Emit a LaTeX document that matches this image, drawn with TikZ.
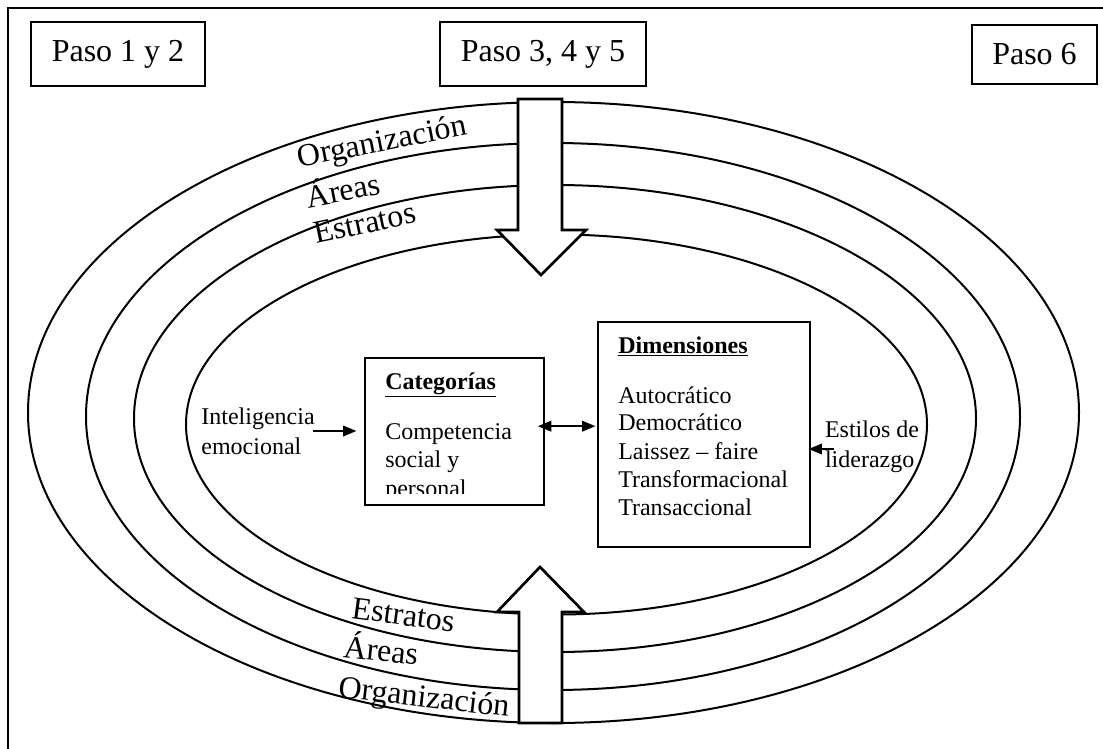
\documentclass[tikz,border=0pt]{standalone}
\usepackage{fontspec}
\setmainfont{Liberation Serif}
\usetikzlibrary{arrows.meta}

\tikzset{
  ring/.style={line width=1.5pt},
  bigarrow/.style={line width=2pt, fill=white, line join=miter},
  pasobox/.style={draw, line width=0.9pt, font=\fontsize{24}{28}\selectfont, minimum height=48pt, inner sep=0pt},
  txtbox/.style={draw, line width=0.9pt, inner sep=0pt},
  ringlabel/.style={font=\fontsize{24}{28}\selectfont, anchor=base, inner sep=0pt},
  smalltext/.style={font=\fontsize{18}{21}\selectfont, inner sep=0pt, anchor=base west},
  sidetext/.style={font=\fontsize{18}{22.5}\selectfont, align=left, inner sep=0pt},
  conn/.style={line width=1.1pt, -{Triangle[length=10pt,width=8pt]}},
  dconn/.style={line width=1.1pt, {Triangle[length=10pt,width=8pt]}-{Triangle[length=10pt,width=8pt]}},
}

\begin{document}
\begin{tikzpicture}[x=0.75pt,y=0.75pt,yscale=-1,xscale=1]
\useasboundingbox (0,0) rectangle (1103,749);
\clip (0,0) rectangle (1103,749);

%Straight Lines: frame
\draw [line width=1.9pt] (8,760) -- (8,8) -- (1120,8) ;

%Shape: Rectangle (pasos)
\node [pasobox, minimum width=130.5pt] (paso12) at (118,54) {Paso 1 y 2};
\node [pasobox, minimum width=154.5pt] (paso345) at (543,54) {Paso 3, 4 y 5};
\node [pasobox, minimum width=93.75pt, minimum height=44.25pt] (paso6) at (1034.5,54.5) {Paso 6};

%Shape: Ellipse
\draw [ring] (553.5,412.5) ellipse [x radius=525.5, y radius=310.5] ;
%Shape: Ellipse
\draw [ring] (553,416.5) ellipse [x radius=467, y radius=273.5] ;
%Shape: Ellipse
\draw [ring] (555,418.5) ellipse [x radius=421, y radius=233.5] ;
%Shape: Ellipse
\draw [ring] (556.5,424.5) ellipse [x radius=370.5, y radius=190] ;

%Ring labels, top
\node [ringlabel, rotate=11] (orgtop) at (384,151) {Organización};
\node [ringlabel, rotate=11] (areatop) at (345,201) {Áreas};
\node [ringlabel, rotate=12] (esttop) at (367,233) {Estratos};
%Ring labels, bottom
\node [ringlabel, rotate=-7.5] (estbot) at (402,625) {Estratos};
\node [ringlabel, rotate=-6] (areabot) at (380,661) {Áreas};
\node [ringlabel, rotate=-6.5] (orgbot) at (423,707) {Organización};

%Shape: Down Arrow
\draw [bigarrow] (518,99) -- (562,99) -- (562,230) -- (586,230) -- (541,275) -- (497,230) -- (518,230) -- cycle ;
%Shape: Up Arrow
\draw [bigarrow] (519,723) -- (562,723) -- (562,612) -- (584,612) -- (540,567) -- (497,612) -- (519,612) -- cycle ;

%Text box: Categorias
\node [txtbox, minimum width=134.25pt, minimum height=110.25pt] (cat) at (454.5,431.5) {};
\begin{scope}
\clip (366,359) rectangle (543,493);
\node [smalltext] (cathead) at (385,389) {\underline{\textbf{Categorías}}};
\node [smalltext] (cat1) at (385,439) {Competencia};
\node [smalltext] (cat2) at (385,467) {social y};
\node [smalltext] (cat3) at (385,496) {personal};
\end{scope}

%Text box: Dimensiones
\node [txtbox, minimum width=159pt, minimum height=168.75pt] (dim) at (704,434.5) {};
\node [smalltext] (dimhead) at (618,353) {\underline{\textbf{Dimensiones}}};
\node [smalltext] (dim1) at (618,403) {Autocrático};
\node [smalltext] (dim2) at (618,430) {Democrático};
\node [smalltext] (dim3) at (618,459) {Laissez – faire};
\node [smalltext] (dim4) at (618,487) {Transformacional};
\node [smalltext] (dim5) at (618,515) {Transaccional};

%Side texts
\node [sidetext] (intel) at (258,431) {Inteligencia\\emocional};
\node [sidetext] (estilos) at (872,447) {Estilos de\\liderazgo};

%Straight Lines: connectors
\draw [conn, shorten <=-1.5pt, shorten >=6pt] (intel.east) -- (intel.east -| cat.west) ;
\draw [dconn, shorten <=-5pt, shorten >=1.5pt] ([yshift=-4pt]cat.east) -- ([yshift=-4pt]cat.east -| dim.west) ;
\draw [conn, shorten <=-7pt, shorten >=-1.5pt] ([yshift=1.5pt]estilos.west) -- ([yshift=1.5pt]estilos.west -| dim.east) ;

\end{tikzpicture}
\end{document}
